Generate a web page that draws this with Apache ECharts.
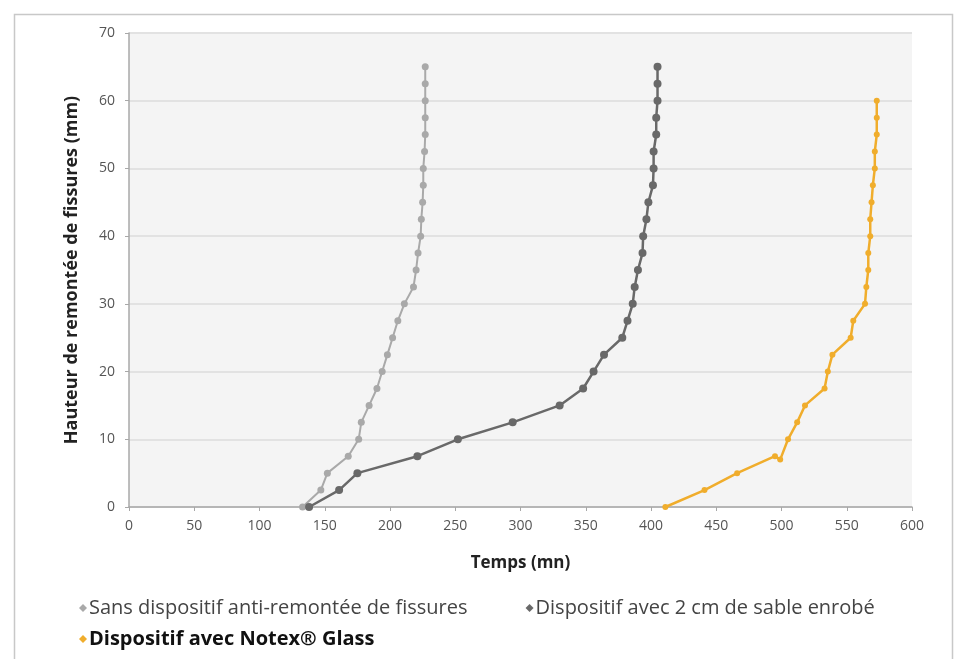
<!DOCTYPE html>
<html>
<head>
<meta charset="utf-8">
<script src="https://cdn.jsdelivr.net/npm/echarts@6/dist/echarts.min.js"></script>
<style>html,body{margin:0;padding:0;background:#fff}#c{width:960px;height:659px}</style>
</head>
<body>
<div id="c"></div>
<script>
const seriesNames = [
  'Sans dispositif anti-remontée de fissures',
  'Dispositif avec 2 cm de sable enrobé',
  'Dispositif avec Notex\u00ae Glass'
];
// [temps (mn), hauteur (mm)]
const sansDispositif = [
  [133,0],[147,2.5],[152,5],[168,7.5],[176,10],[178,12.5],[184,15],[190,17.5],[194,20],[198,22.5],
  [202,25],[206,27.5],[211,30],[218,32.5],[220,35],[221.5,37.5],[223.5,40],[224,42.5],[225,45],
  [225.5,47.5],[225.5,50],[226.5,52.5],[227,55],[227,57.5],[227,60],[227,62.5],[227,65]
];
const sableEnrobe = [
  [138,0],[161,2.5],[175,5],[221,7.5],[252,10],[294,12.5],[330,15],[348,17.5],[356,20],[364,22.5],
  [378,25],[382,27.5],[386,30],[387.5,32.5],[390,35],[393.5,37.5],[394,40],[396.5,42.5],[398,45],
  [401.5,47.5],[402,50],[402,52.5],[404,55],[404,57.5],[405,60],[405,62.5],[405,65]
];
const notexGlass = [
  [411,0],[441,2.5],[466,5],[495,7.5],[499,7],[505,10],[512,12.5],[518,15],[533,17.5],[535.5,20],
  [539,22.5],[553,25],[555,27.5],[564,30],[565,32.5],[566.5,35],[566.5,37.5],[568,40],[568,42.5],
  [569,45],[570,47.5],[571.5,50],[571.5,52.5],[573,55],[573,57.5],[573,60]
];
const xTicks = {min:0, max:600, interval:50};
const yTicks = {min:0, max:70, interval:10};
const colors = ['#a9a9a9', '#696969', '#f0ad2c'];

const chart = echarts.init(document.getElementById('c'));
const labelFont = '"Liberation Sans Narrow", "Open Sans", sans-serif';
const legendFont = '"Open Sans", sans-serif';
chart.setOption({
  animation: false,
  backgroundColor: '#ffffff',
  graphic: [{
    type: 'rect', left: 12, top: 12, shape: {width: 938, height: 660},
    style: {fill: 'none', stroke: '#c8c8c8', lineWidth: 1.5}, silent: true, z: -1
  }],
  grid: {left: 129, right: 48, top: 33, bottom: 152, show: true, backgroundColor: '#f4f4f4', borderWidth: 0},
  xAxis: {
    type: 'value', min: xTicks.min, max: xTicks.max, interval: xTicks.interval,
    name: 'Temps (mn)', nameLocation: 'middle', nameGap: 48,
    nameTextStyle: {fontFamily: legendFont, fontWeight: 'bold', fontSize: 17, color: '#222'},
    axisLine: {show: true, onZero: false, lineStyle: {color: '#a8a8a8', width: 1.5}},
    axisTick: {show: true, length: 4, lineStyle: {color: '#a8a8a8'}},
    axisLabel: {fontFamily: labelFont, fontSize: 14, color: '#555', margin: 12},
    splitLine: {show: false}
  },
  yAxis: {
    type: 'value', min: yTicks.min, max: yTicks.max, interval: yTicks.interval,
    name: 'Hauteur de remontée de fissures (mm)', nameLocation: 'middle', nameGap: 48,
    nameTextStyle: {fontFamily: legendFont, fontWeight: 'bold', fontSize: 18, color: '#222'},
    axisLine: {show: true, lineStyle: {color: '#a8a8a8', width: 1.5}},
    axisTick: {show: true, length: 4, lineStyle: {color: '#a8a8a8'}},
    axisLabel: {fontFamily: labelFont, fontSize: 14, color: '#555', margin: 14},
    splitLine: {show: true, lineStyle: {color: '#e2e2e2', width: 2}}
  },
  legend: [{
    left: 74, top: 593, itemWidth: 8, itemHeight: 8, itemGap: 58,
    icon: 'diamond',
    textStyle: {fontFamily: legendFont, fontSize: 20, color: '#444', padding: [0,0,0,-3]},
    data: [seriesNames[0], seriesNames[1]]
  }, {
    left: 74, top: 624, itemWidth: 8, itemHeight: 8,
    icon: 'diamond',
    textStyle: {fontFamily: legendFont, fontSize: 20, color: '#111', fontWeight: 'bold', padding: [0,0,0,-3]},
    data: [seriesNames[2]]
  }],
  series: [
    {name: seriesNames[0], type: 'line', data: sansDispositif, color: colors[0],
     symbol: 'circle', symbolSize: 7, lineStyle: {width: 2}, z: 2},
    {name: seriesNames[1], type: 'line', data: sableEnrobe, color: colors[1],
     symbol: 'circle', symbolSize: 8, lineStyle: {width: 2.5}, z: 3},
    {name: seriesNames[2], type: 'line', data: notexGlass, color: colors[2],
     symbol: 'circle', symbolSize: 6, lineStyle: {width: 2.5}, z: 4}
  ]
});
</script>
</body>
</html>
